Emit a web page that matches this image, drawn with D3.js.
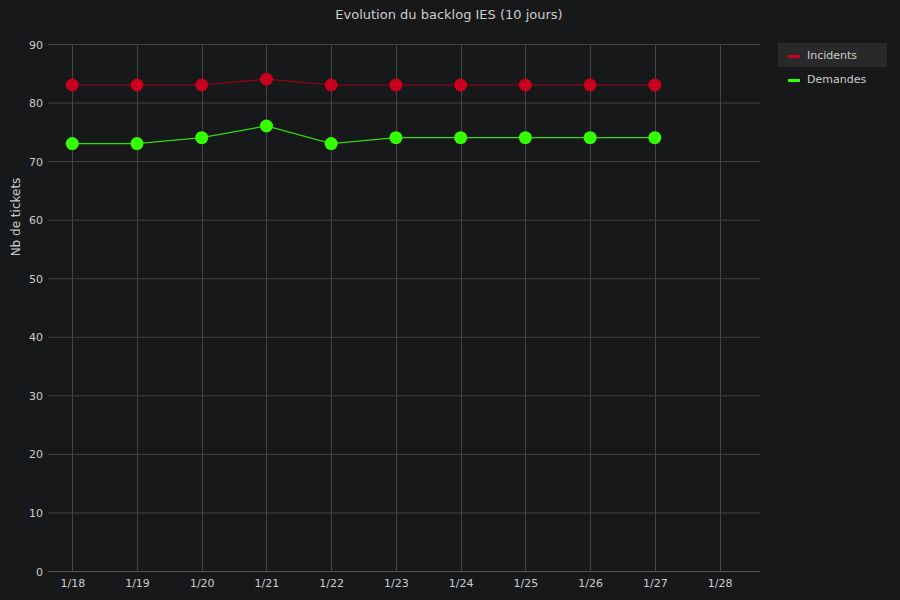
<!DOCTYPE html>
<html><head><meta charset="utf-8">
<script src="https://cdn.jsdelivr.net/npm/d3@7"></script>
<style>
html,body{margin:0;padding:0;background:#17181a;}
svg{display:block;font-family:"DejaVu Sans",sans-serif;}
</style></head>
<body>
<svg id="c" width="900" height="600"></svg>
<script>
const dates = ["2024-01-18","2024-01-19","2024-01-20","2024-01-21","2024-01-22","2024-01-23","2024-01-24","2024-01-25","2024-01-26","2024-01-27"];
const tickDates = ["2024-01-18","2024-01-19","2024-01-20","2024-01-21","2024-01-22","2024-01-23","2024-01-24","2024-01-25","2024-01-26","2024-01-27","2024-01-28"];
const incidents = [83,83,83,84,83,83,83,83,83,83];
const demandes  = [73,73,74,76,73,74,74,74,74,74];
const yTicks = [0,10,20,30,40,50,60,70,80,90];
const seriesNames = ["Incidents","Demandes"];
const seriesColors = ["#c8001e","#33ff00"];
const lineColors = ["#9c0018","#33dd00"];

const parse = d3.timeParse("%Y-%m-%d");
const svg = d3.select("#c");
const FONT = "DejaVu Sans, sans-serif";
const L=48, R=760, T=44, B=571;
const x = d3.scaleTime()
  .domain([new Date(2024,0,17,15), new Date(2024,0,28,15)])
  .range([L,R]);
const y = d3.scaleLinear().domain([0,90]).range([B,T]);

// grid
const g = svg.append("g");
g.selectAll("line.h").data(yTicks).join("line")
  .attr("x1",L).attr("x2",R).attr("y1",d=>y(d)+0.5).attr("y2",d=>y(d)+0.5)
  .attr("stroke",d=>d===0?"#555":"#444").attr("stroke-width",1);
g.selectAll("line.v").data(tickDates).join("line")
  .attr("x1",d=>Math.round(x(parse(d)))+0.5).attr("x2",d=>Math.round(x(parse(d)))+0.5)
  .attr("y1",T).attr("y2",B).attr("stroke","#444").attr("stroke-width",1);

// axes labels
const yAxis = d3.axisLeft(y).tickValues(yTicks).tickSize(0).tickPadding(6);
const ya = svg.append("g").attr("transform",`translate(${L},0.5)`).call(yAxis)
  .attr("font-family",FONT).attr("font-size",11);
ya.select(".domain").remove();
ya.selectAll("text").attr("fill","#cccccc").attr("x",-5);

const xAxis = d3.axisBottom(x).tickValues(tickDates.map(parse)).tickFormat(d3.timeFormat("%-m/%-d")).tickSize(0).tickPadding(8);
const xa = svg.append("g").attr("transform",`translate(0,${B})`).call(xAxis)
  .attr("font-family",FONT).attr("font-size",11);
xa.select(".domain").remove();
xa.selectAll("text").attr("fill","#cccccc");

// title
svg.append("text").attr("x",449).attr("y",19).attr("text-anchor","middle")
  .attr("fill","#cccccc").attr("font-size","13px").text("Evolution du backlog IES (10 jours)");
// y label
svg.append("text").attr("transform","translate(20,217) rotate(-90)").attr("text-anchor","middle")
  .attr("fill","#cccccc").attr("font-size","12px").text("Nb de tickets");

// series
const data = [incidents, demandes];
data.forEach((vals,i)=>{
  const pts = vals.map((v,j)=>({d:parse(dates[j]),v}));
  svg.append("path").datum(pts)
    .attr("d",d3.line().x(p=>x(p.d)).y(p=>y(p.v)))
    .attr("fill","none").attr("stroke",lineColors[i]).attr("stroke-width",1.2);
  svg.append("g").selectAll("circle").data(pts).join("circle")
    .attr("cx",p=>x(p.d)).attr("cy",p=>y(p.v)).attr("r",6.5)
    .attr("fill",seriesColors[i]);
});

// legend
svg.append("rect").attr("x",778).attr("y",43).attr("width",109).attr("height",24).attr("fill","#29292b");
seriesNames.forEach((n,i)=>{
  const yy = 55 + i*24;
  svg.append("rect").attr("x",788).attr("y",yy).attr("width",12).attr("height",3).attr("fill",seriesColors[i]);
  svg.append("text").attr("x",807).attr("y",yy+4).attr("fill","#cccccc").attr("font-size","11px").text(n);
});
</script>
</body></html>
